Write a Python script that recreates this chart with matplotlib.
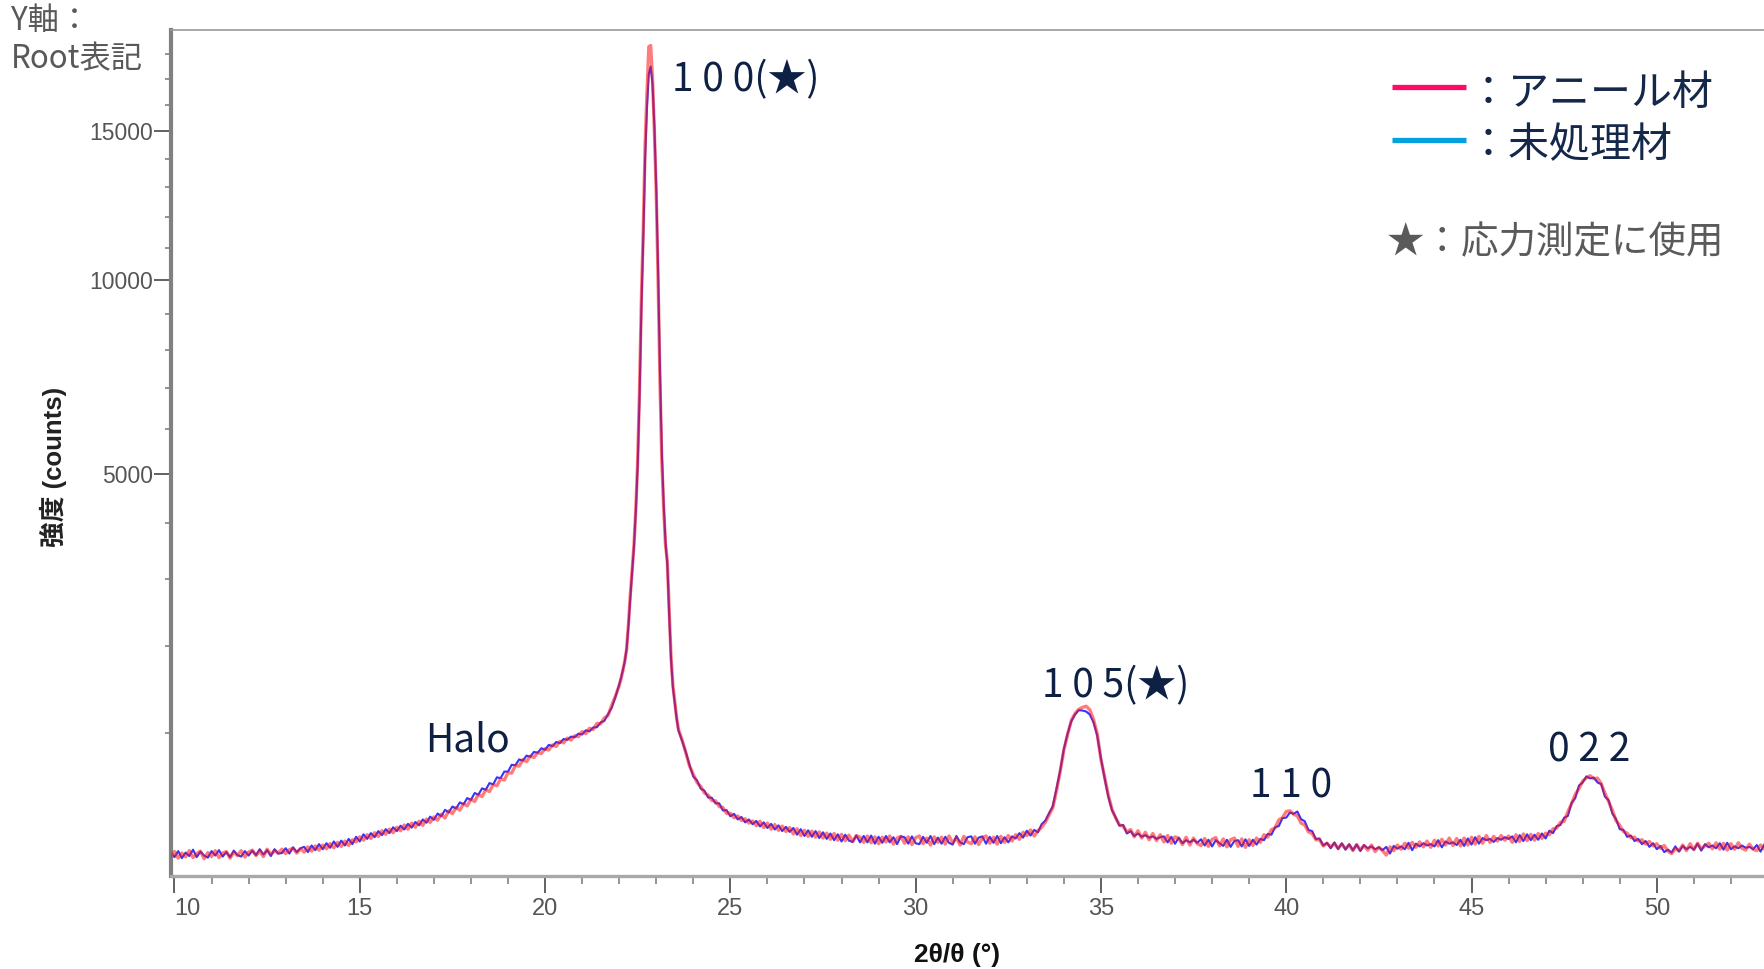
import numpy as np
import matplotlib
matplotlib.use("Agg")
import matplotlib.pyplot as plt
from matplotlib.lines import Line2D

plt.rcParams['font.family'] = ['Noto Sans CJK JP', 'DejaVu Sans']

# ---------------- data (2theta grid segments and intensities) ----------------
seg_a_range = (9.9, 21.9)    # step 0.1
seg_b_range = (22.0, 23.6)   # step 0.05
seg_c_range = (23.7, 52.9)   # step 0.1

annealed_a = [
    168,186,160,180,165,190,162,178,188,158,
    182,166,190,162,180,186,160,184,170,190,
    164,184,192,170,188,166,196,174,190,180,
    196,178,194,200,180,198,184,206,188,210,
    192,214,198,220,202,226,208,232,212,238,
    228,252,236,262,244,272,254,282,264,290,
    272,300,282,312,290,322,300,332,310,344,
    326,356,338,372,350,392,376,412,396,436,
    422,464,450,496,482,528,516,566,556,606,
    598,654,650,710,706,758,742,788,776,818,
    810,852,840,886,872,918,904,948,930,970,
    962,1010,990,1042,1030,1090,1085,1145,1170,1280,
    1380]
annealed_b = [1500,1580,1680,1800,1950,2300,2750,3150,3600,4300,5300,7000,9500,
              11600,14500,16500,18300,18350,17000,15000,12800,10000,7200,5300,
              4300,3600,3300,2500,1850,1500,1320,1150,1030]
annealed_c = [
    930,815,705,640,580,552,506,492,456,454,
    418,412,376,378,352,362,336,346,322,334,
    308,332,298,322,290,314,284,306,278,298,
    266,292,258,284,254,280,250,276,246,270,
    240,268,236,264,234,260,230,258,250,226,
    256,224,252,220,250,228,256,218,246,254,
    222,252,216,248,256,220,246,214,252,226,
    250,218,256,224,246,214,254,228,220,252,
    216,246,256,222,250,218,254,226,258,232,
    262,240,274,258,286,256,282,300,326,368,
    410,520,660,840,980,1120,1190,1235,1255,1268,
    1230,1130,990,760,620,490,400,350,312,306,
    276,288,252,282,246,274,238,268,234,262,
    228,258,222,252,244,216,250,214,246,220,
    212,244,208,240,248,210,242,206,238,246,
    208,242,204,238,212,246,226,262,250,288,
    296,340,352,388,392,372,362,322,312,276,
    268,238,238,210,222,206,220,200,218,198,
    214,190,216,194,212,192,214,186,204,190,
    172,206,190,214,196,222,200,226,204,228,
    206,232,204,236,210,240,214,246,212,244,
    210,246,214,250,218,254,222,258,226,254,
    232,258,236,256,226,262,230,266,234,264,
    236,268,244,270,262,292,296,326,332,386,
    436,496,536,590,614,630,608,612,572,504,
    450,396,336,310,278,270,248,250,232,238,
    218,230,210,220,200,212,188,178,198,190,
    214,190,220,194,222,198,210,222,198,224,
    196,222,192,220,196,224,200,192,218,196,
    190,214,198]

untreated_a = [
    184,164,188,160,182,168,194,164,186,170,
    162,188,170,192,166,184,164,190,172,166,
    188,170,190,172,196,174,192,168,196,178,
    180,200,178,204,184,200,206,184,212,192,
    218,196,222,202,230,206,234,212,242,218,
    252,230,264,242,270,250,280,260,290,270,
    300,280,308,288,318,298,328,310,342,324,
    358,340,376,360,398,382,418,406,444,432,
    472,460,506,494,538,528,576,566,618,612,
    662,662,716,712,760,750,792,782,824,816,
    856,842,886,874,912,902,940,932,962,956,
    990,982,1022,1012,1050,1052,1100,1115,1185,1252,
    1370]
untreated_b = [1510,1590,1690,1790,1960,2280,2700,3120,3580,4250,5200,6800,9200,
               11300,14000,15900,17200,17500,16800,15200,13000,10300,7500,5500,
               4400,3650,3250,2450,1820,1480,1300,1140,1020]
untreated_c = [
    920,822,712,624,596,536,522,476,474,438,
    438,394,396,360,374,342,356,326,342,316,
    334,304,326,296,318,288,310,280,302,276,
    296,262,290,256,284,252,280,246,274,242,
    268,236,264,230,262,234,228,258,226,256,
    226,258,220,252,224,256,226,250,218,254,
    250,220,254,222,218,252,224,256,218,248,
    220,252,224,216,256,226,218,250,254,220,
    248,254,220,252,224,256,222,250,226,254,
    244,270,248,282,258,286,274,316,336,378,
    420,535,670,850,990,1110,1180,1225,1222,1212,
    1180,1100,970,770,610,480,395,352,308,312,
    268,280,256,268,252,260,248,254,242,250,
    254,226,252,220,248,222,236,226,238,224,
    240,212,238,208,236,222,210,238,206,232,
    236,208,240,210,238,216,242,236,266,262,
    300,306,350,352,382,374,388,344,332,286,
    280,242,244,212,224,200,226,196,222,194,
    218,192,216,188,214,200,208,196,204,192,
    206,178,210,198,208,196,224,192,220,208,
    222,212,218,208,236,204,230,220,226,214,
    238,210,244,216,250,220,246,236,242,228,
    246,238,250,242,254,226,260,232,264,236,
    262,238,268,244,282,270,306,312,352,362,
    440,472,558,580,625,610,616,580,568,482,
    458,376,344,290,286,252,258,232,242,218,
    232,206,222,196,210,184,194,182,208,186,
    210,196,206,194,220,190,218,204,212,200,
    222,194,224,196,208,200,212,202,206,196,
    214,186,216]

x_major = [10, 15, 20, 25, 30, 35, 40, 45, 50]
x_minor = [v for v in range(11, 53) if v % 5 != 0]
y_major = [5000, 10000, 15000]
y_minor = [1000, 2000, 3000, 4000, 6000, 7000, 8000, 9000,
           11000, 12000, 13000, 14000, 16000, 17000, 18000]

peak_labels = ["1 0 0(★)", "1 0 5(★)", "1 1 0", "0 2 2", "Halo"]
legend_labels = ["：アニール材", "：未処理材"]
note_label = "★：応力測定に使用"
corner_label = ["Y軸：", "Root表記"]


def grid(seg_range, n):
    return np.linspace(seg_range[0], seg_range[1], n)


def build(a, b, c):
    x = np.concatenate([grid(seg_a_range, len(a)), grid(seg_b_range, len(b)),
                        grid(seg_c_range, len(c))])
    y = np.array(a + b + c, dtype=float)
    return x, y


x_ann, y_ann = build(annealed_a, annealed_b, annealed_c)
x_unt, y_unt = build(untreated_a, untreated_b, untreated_c)

# ---------------- figure ----------------
W, H = 1765, 969
fig = plt.figure(figsize=(W / 100, H / 100), dpi=100)


def fx(px):
    return px / W


def fy(py):
    return 1 - py / H


ax = fig.add_axes([fx(171), fy(876), 1 - fx(171), fy(30) - fy(876)])

ax.set_yscale('function', functions=(lambda v: np.sqrt(np.clip(v, 0, None)),
                                     lambda v: np.square(v)))
ax.plot(x_unt, y_unt, color='#1010ff', lw=1.5, alpha=0.85, zorder=2)
ax.plot(x_ann, y_ann, color='#ff1010', lw=2.4, alpha=0.55, zorder=3)

ax.set_xlim(9.906, 52.92)
ax.set_ylim(99, 18990)

ax.set_xticks(x_major)
ax.set_xticks(x_minor, minor=True)
ax.set_yticks(y_major)
ax.set_yticks(y_minor, minor=True)
xl = ax.set_xticklabels([str(v) for v in x_major])
ax.set_yticklabels([str(v) for v in y_major])
xl[0].set_horizontalalignment('left')

tick_col = '#555555'
ax.tick_params(axis='x', which='major', direction='out', length=12, width=1.3,
               color=tick_col, labelsize=17, labelcolor='#555555', pad=4)
ax.tick_params(axis='x', which='minor', direction='out', length=6, width=1.1,
               color='#777777')
ax.tick_params(axis='y', which='major', direction='out', length=12, width=1.3,
               color=tick_col, labelsize=16.5, labelcolor='#555555', pad=1)
ax.tick_params(axis='y', which='minor', direction='out', length=4, width=1.1,
               color='#777777')
for lab in ax.get_xticklabels() + ax.get_yticklabels():
    lab.set_fontfamily(['Liberation Sans', 'DejaVu Sans'])

ax.spines['left'].set_color('#808080')
ax.spines['left'].set_linewidth(3.0)
ax.spines['bottom'].set_color('#a8a8a8')
ax.spines['bottom'].set_linewidth(2.4)
ax.spines['top'].set_color('#9a9a9a')
ax.spines['top'].set_linewidth(1.2)
ax.spines['right'].set_visible(False)

# axis titles
fig.text(fx(957), fy(955), "2θ/θ (°)", ha='center', va='center', fontsize=19,
         fontweight='bold', color='#111111', family=['Liberation Sans', 'DejaVu Sans'])
fig.text(fx(53), fy(467), "強度 (counts)", ha='center', va='center', fontsize=18.5,
         fontweight='bold', rotation=90, color='#222222',
         family=['Liberation Sans', 'Noto Sans CJK JP'])

# corner note
fig.text(fx(11), fy(21), corner_label[0], ha='left', va='center', fontsize=22.5, color='#595959')
fig.text(fx(11), fy(59), corner_label[1], ha='left', va='center', fontsize=22.5, color='#595959')

# peak labels
navy = '#0f2045'
label_pos = [(672, 80), (1042, 686), (1250, 786), (1548, 751), (425, 741)]
for txt, (px, py) in zip(peak_labels, label_pos):
    fig.text(fx(px), fy(py), txt, ha='left', va='center', fontsize=28, color=navy)

# legend
legend_cols = ['#ff0a64', '#04a0e0']
legend_y = [87, 140]
legend_text_y = [93, 146]
for col, lab, py, ty in zip(legend_cols, legend_labels, legend_y, legend_text_y):
    fig.add_artist(Line2D([fx(1392), fx(1466)], [fy(py), fy(py)], color=col, lw=3.8,
                          transform=fig.transFigure, solid_capstyle='butt'))
    fig.text(fx(1468), fy(ty), lab, ha='left', va='center', fontsize=29.5, color='#14284b')
fig.text(fx(1387), fy(243), note_label, ha='left', va='center', fontsize=27, color='#5a5a5a')

fig.savefig("out.png", dpi=100)
